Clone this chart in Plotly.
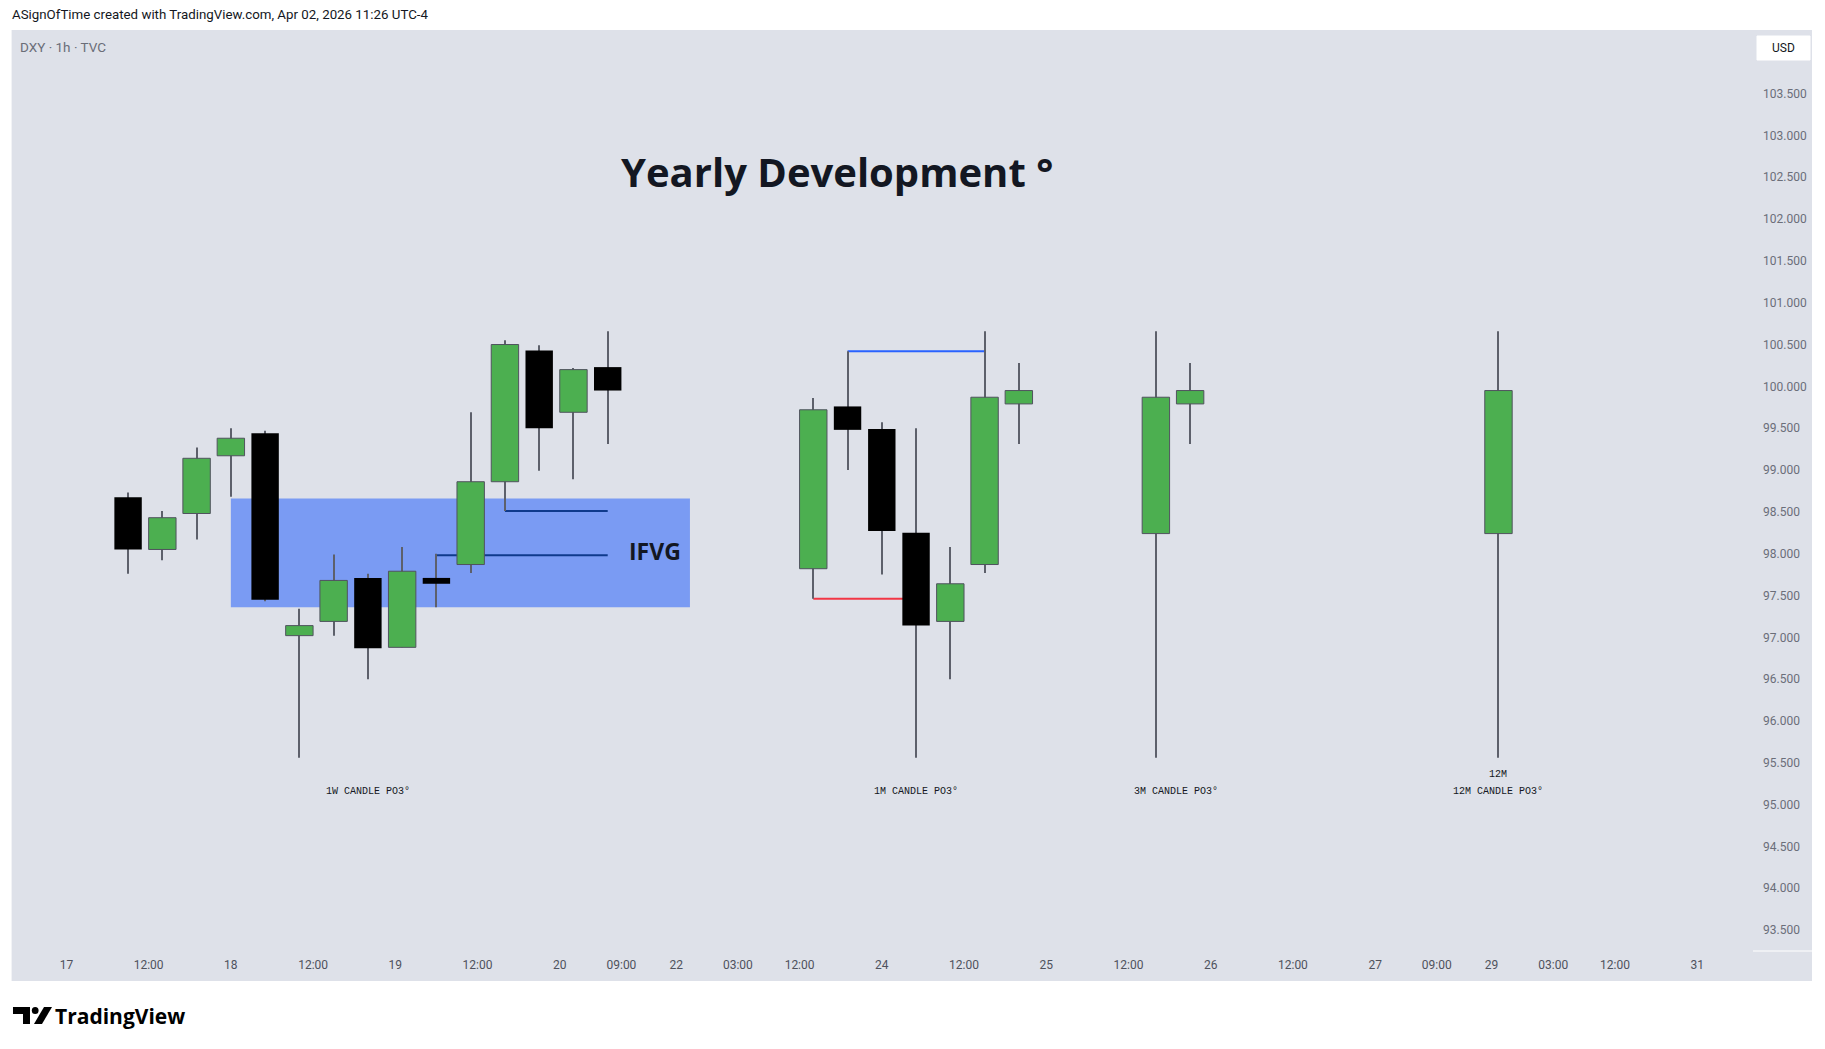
import plotly.graph_objects as go

# ---------------- data ----------------
# x position in "chart hours" (17 Mar 00:00 = 0, weekend gap removed)
candle_hours = [9, 14, 19, 24, 29, 34, 39, 44, 49, 54, 59, 64, 69, 74, 79,
                109, 114, 119, 124, 129, 134, 139,
                159, 164,
                209]
candle_open = [98.675, 98.05, 98.48, 99.17, 99.44, 97.02, 97.19, 97.71, 96.88, 97.71, 97.87, 98.86, 100.43, 99.69, 100.23,
               97.82, 99.76, 99.49, 98.25, 97.19, 97.87, 99.79,
               98.24, 99.79,
               98.24]
candle_high = [98.73, 98.51, 99.27, 99.50, 99.47, 97.34, 97.99, 97.76, 98.08, 98.00, 99.69, 100.55, 100.49, 100.22, 100.66,
               99.86, 100.42, 99.57, 99.50, 98.08, 100.66, 100.28,
               100.66, 100.28,
               100.66]
candle_low = [97.76, 97.92, 98.17, 98.68, 97.43, 95.56, 97.02, 96.50, 96.88, 97.36, 97.77, 98.51, 98.99, 98.89, 99.31,
              97.46, 99.00, 97.75, 95.56, 96.50, 97.77, 99.31,
              95.56, 99.31,
              95.56]
candle_close = [98.05, 98.43, 99.14, 99.38, 97.45, 97.14, 97.68, 96.87, 97.79, 97.64, 98.86, 100.50, 99.50, 100.20, 99.95,
                99.72, 99.48, 98.27, 97.14, 97.64, 99.87, 99.95,
                99.87, 99.95,
                99.95]

# IFVG zone (hours start/end, price low/high)
ifvg_hours = [24, 91]
ifvg_prices = [97.36, 98.66]

# horizontal levels
level_start = [64, 54, 109, 114]
level_end = [79, 79, 124, 134]
level_price = [98.51, 97.98, 97.46, 100.42]
level_color = ["#0F3A8C", "#0F3A8C", "#F23645", "#2962FF"]

# text labels on the chart
label_text = ["1W CANDLE PO3°", "1M CANDLE PO3°", "3M CANDLE PO3°", "12M", "12M CANDLE PO3°"]
label_hours = [44, 124, 162, 209, 209]
label_price = [95.16, 95.16, 95.16, 95.36, 95.16]

title_text = "Yearly Development °"
title_hours, title_price = 112.5, 102.57
ifvg_text = "IFVG"
ifvg_text_hours, ifvg_text_price = 81.8, 98.03

# axes
time_tick_hours = [0, 12, 24, 36, 48, 60, 72, 81, 89, 98, 107, 119, 131, 143, 155,
                   167, 179, 191, 200, 208, 217, 226, 238]
time_tick_labels = ["17", "12:00", "18", "12:00", "19", "12:00", "20", "09:00", "22", "03:00",
                    "12:00", "24", "12:00", "25", "12:00", "26", "12:00", "27", "09:00", "29",
                    "03:00", "12:00", "31"]
price_ticks = [93.5, 94.0, 94.5, 95.0, 95.5, 96.0, 96.5, 97.0, 97.5, 98.0, 98.5,
               99.0, 99.5, 100.0, 100.5, 101.0, 101.5, 102.0, 102.5, 103.0, 103.5]
x_range = [-7.94, 246.0]
y_range = [93.25, 104.26]

# ---------------- styling ----------------
W, H = 1825, 1049
PL, PR, PT, PB = 12, 1752, 30, 951   # plot area in pixels
PANEL = "#DEE1E9"
GREEN = "#4CAF50"
OUTLINE = "#50535E"
WICK = "#5D606B"
DARK = "#131722"


def pxx(px):
    return (px - PL) / (PR - PL)


def pxy(py):
    return (PB - py) / (PB - PT)


fig = go.Figure()

# wicks
fig.add_trace(go.Bar(
    x=candle_hours, base=candle_low,
    y=[h - l for h, l in zip(candle_high, candle_low)],
    width=0.15, marker=dict(color=WICK, line=dict(width=0)),
    hoverinfo="skip", showlegend=False))

up = [i for i in range(len(candle_hours)) if candle_close[i] >= candle_open[i]]
dn = [i for i in range(len(candle_hours)) if candle_close[i] < candle_open[i]]

fig.add_trace(go.Bar(
    x=[candle_hours[i] for i in up],
    base=[min(candle_open[i], candle_close[i]) for i in up],
    y=[abs(candle_close[i] - candle_open[i]) for i in up],
    width=4.0, marker=dict(color=GREEN, line=dict(color=OUTLINE, width=1)),
    hoverinfo="skip", showlegend=False))

fig.add_trace(go.Bar(
    x=[candle_hours[i] for i in dn],
    base=[min(candle_open[i], candle_close[i]) for i in dn],
    y=[abs(candle_close[i] - candle_open[i]) for i in dn],
    width=4.0, marker=dict(color="#000000", line=dict(width=0)),
    hoverinfo="skip", showlegend=False))

shapes = []
# panel background (includes the axis areas)
shapes.append(dict(type="rect", xref="paper", yref="paper", layer="below",
                   x0=pxx(11.6), x1=pxx(1812), y0=pxy(981), y1=pxy(30),
                   fillcolor=PANEL, line=dict(width=0)))
# IFVG zone
shapes.append(dict(type="rect", xref="x", yref="y", layer="below",
                   x0=ifvg_hours[0], x1=ifvg_hours[1], y0=ifvg_prices[0], y1=ifvg_prices[1],
                   fillcolor="#7A9BF3", line=dict(width=0)))
# levels
for x0, x1, p, c in zip(level_start, level_end, level_price, level_color):
    shapes.append(dict(type="line", xref="x", yref="y", layer="below",
                       x0=x0, x1=x1, y0=p, y1=p, line=dict(color=c, width=2)))
# corner line between price axis and time axis
shapes.append(dict(type="line", xref="paper", yref="paper",
                   x0=pxx(1753), x1=pxx(1812), y0=pxy(951), y1=pxy(951),
                   line=dict(color="#FFFFFF", width=1)))
# USD box
shapes.append(dict(type="rect", xref="paper", yref="paper",
                   x0=pxx(1757), x1=pxx(1810), y0=pxy(60), y1=pxy(36),
                   fillcolor="#FFFFFF", line=dict(color="#FFFFFF", width=1)))


def ppath(points):
    s = "M " + " L ".join(f"{pxx(a):.5f},{pxy(b):.5f}" for a, b in points) + " Z"
    return s


# TradingView logo
shapes.append(dict(type="path", xref="paper", yref="paper",
                   path=ppath([(13, 1007), (30, 1007), (30, 1024), (23, 1024), (23, 1014), (13, 1014)]),
                   fillcolor="#000000", line=dict(width=0)))
shapes.append(dict(type="circle", xref="paper", yref="paper",
                   x0=pxx(31.8), x1=pxx(38.6), y0=pxy(1014), y1=pxy(1007),
                   fillcolor="#000000", line=dict(width=0)))
shapes.append(dict(type="path", xref="paper", yref="paper",
                   path=ppath([(34, 1024), (42, 1024), (52, 1007), (44, 1007)]),
                   fillcolor="#000000", line=dict(width=0)))

annotations = []
annotations.append(dict(xref="x", yref="y", x=title_hours, y=title_price, text=title_text,
                        showarrow=False, xanchor="center", yanchor="middle",
                        font=dict(family="Open Sans", size=40, color=DARK, weight=700)))
annotations.append(dict(xref="x", yref="y", x=ifvg_text_hours, y=ifvg_text_price, text=ifvg_text,
                        showarrow=False, xanchor="left", yanchor="middle",
                        font=dict(family="Open Sans", size=23, color=DARK, weight=700)))
for t, hx, p in zip(label_text, label_hours, label_price):
    annotations.append(dict(xref="x", yref="y", x=hx, y=p, text=t, showarrow=False,
                            xanchor="center", yanchor="middle",
                            font=dict(family="Liberation Mono", size=10, color=DARK)))
annotations.append(dict(xref="paper", yref="paper", x=pxx(10), y=pxy(15),
                        text="ASignOfTime created with TradingView.com, Apr 02, 2026 11:26 UTC-4",
                        showarrow=False, xanchor="left", yanchor="middle",
                        font=dict(family="Roboto", size=13.3, color=DARK)))
annotations.append(dict(xref="paper", yref="paper", x=pxx(18), y=pxy(46.5),
                        text="DXY · 1h · TVC", showarrow=False, xanchor="left", yanchor="middle",
                        font=dict(family="Roboto", size=13.5, color="#6A6D78")))
annotations.append(dict(xref="paper", yref="paper", x=pxx(1783.5), y=pxy(48),
                        text="USD", showarrow=False, xanchor="center", yanchor="middle",
                        font=dict(family="Roboto", size=12, color=DARK)))
annotations.append(dict(xref="paper", yref="paper", x=pxx(53), y=pxy(1016),
                        text="TradingView", showarrow=False, xanchor="left", yanchor="middle",
                        font=dict(family="Open Sans", size=21, color="#000000", weight=700)))

fig.update_layout(
    width=W, height=H,
    margin=dict(l=PL, r=W - PR, t=PT, b=H - PB, pad=0),
    paper_bgcolor="#FFFFFF", plot_bgcolor=PANEL,
    barmode="overlay", showlegend=False,
    shapes=shapes, annotations=annotations,
    xaxis=dict(range=x_range, showgrid=False, zeroline=False, showline=False,
               tickmode="array", tickvals=time_tick_hours, ticktext=time_tick_labels,
               ticks="", ticklabelstandoff=5,
               tickfont=dict(family="Roboto", size=12, color="#4F525D"), fixedrange=True),
    yaxis=dict(range=y_range, side="right", showgrid=False, zeroline=False, showline=False,
               tickmode="array", tickvals=price_ticks,
               ticktext=[f"{v:.3f}" for v in price_ticks],
               ticks="", ticklabelstandoff=10,
               tickfont=dict(family="Roboto", size=12, color="#6B6E79"), fixedrange=True),
)

fig.write_html("out.html", config={"displayModeBar": False},
               post_script="document.body.style.margin='0';document.body.style.overflow='hidden';")
